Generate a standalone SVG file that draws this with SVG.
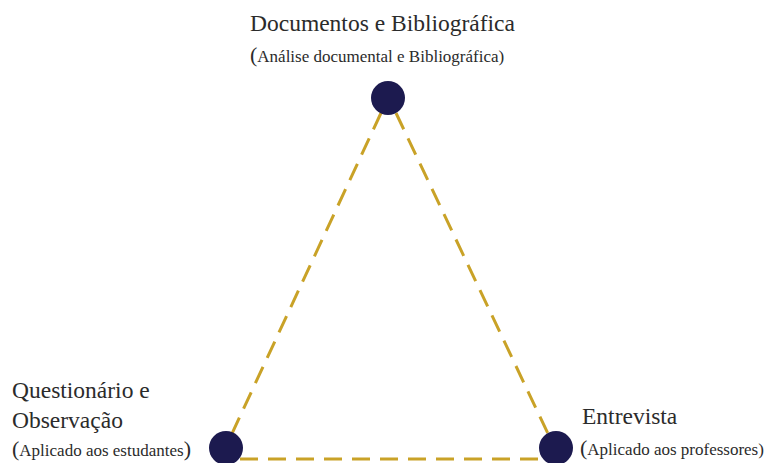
<svg xmlns="http://www.w3.org/2000/svg" width="765" height="463" viewBox="0 0 765 463">
<style>
text{font-family:'Liberation Serif','Times New Roman',serif;fill:#2b2b2b}
.big{font-size:23.5px}
.small{font-size:17px}
.par{font-size:22px}
.dash{stroke:#C9A227;stroke-width:3;stroke-dasharray:18 10;fill:none}
.node{fill:#1c1a4f}
</style>
<rect width="765" height="463" fill="#ffffff"/>
<g id="connectors">
<line class="dash" x1="381" y1="113" x2="229" y2="440"/>
<line class="dash" x1="396" y1="113" x2="551" y2="440"/>
<line class="dash" x1="240" y1="459" x2="542" y2="459"/>
</g>
<g id="node-top">
<circle class="node" cx="388" cy="98" r="17"/>
<text class="big" x="250" y="31">Documentos e Bibliográfica</text>
<text x="250" y="62"><tspan class="par">(</tspan><tspan class="small">Análise documental e Bibliográfica)</tspan></text>
</g>
<g id="node-left">
<circle class="node" cx="226" cy="448" r="17"/>
<text class="big" x="12" y="398">Questionário e</text>
<text class="big" x="12" y="428">Observação</text>
<text x="12" y="456"><tspan class="par">(</tspan><tspan class="small">Aplicado aos estudantes</tspan><tspan class="par">)</tspan></text>
</g>
<g id="node-right">
<circle class="node" cx="556" cy="448" r="17"/>
<text class="big" x="582" y="424">Entrevista</text>
<text x="580" y="455"><tspan class="par">(</tspan><tspan class="small">Aplicado aos professores)</tspan></text>
</g>
</svg>
